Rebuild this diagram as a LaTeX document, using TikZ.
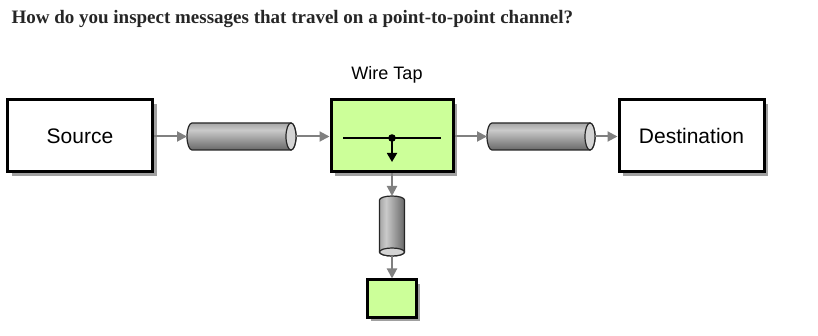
\documentclass[tikz,border=0pt]{standalone}
\usepackage{fontspec}
\setmainfont{Liberation Serif}
\newfontfamily\labelfont{Liberation Sans}
\usetikzlibrary{arrows.meta,shadows}

\definecolor{tapgreen}{RGB}{204,255,153}
\definecolor{pipedark}{RGB}{104,104,104}
\definecolor{pipelight}{RGB}{202,202,202}
\definecolor{pipetop}{RGB}{165,165,165}
\definecolor{pipeface}{RGB}{212,212,212}
\definecolor{flowgray}{RGB}{128,128,128}
\definecolor{shadowgray}{RGB}{160,160,160}

% gradient of a message channel: dark underside, highlight near the top
\pgfdeclareverticalshading{pipeshade}{100bp}{color(0bp)=(pipedark); color(25bp)=(pipedark); color(62bp)=(pipelight); color(75bp)=(pipetop); color(100bp)=(pipetop)}

% horizontal channel drawn inside the bounds of node #1, open end on the right
\newcommand\hchannel[1]{%
  \shadedraw[shading=pipeshade, draw=black!85, line width=1.2pt]
    ([xshift=5pt]#1.north west) -- ([xshift=-5pt]#1.north east)
    arc[start angle=90, end angle=-90, x radius=5pt, y radius=13.5pt]
    -- ([xshift=5pt]#1.south west)
    arc[start angle=-90, end angle=-270, x radius=5pt, y radius=13.5pt] -- cycle;
  \draw[draw=black!85, line width=1.2pt, fill=pipeface]
    ([xshift=-5pt]#1.east) ellipse[x radius=5pt, y radius=13.5pt];}

% vertical channel drawn inside the bounds of node #1, open end at the bottom
\newcommand\vchannel[1]{%
  \shadedraw[shading=pipeshade, shading angle=90, draw=black!85, line width=1.2pt]
    ([yshift=-4pt]#1.north west) -- ([yshift=4pt]#1.south west)
    arc[start angle=180, end angle=360, x radius=12.5pt, y radius=4pt]
    -- ([yshift=-4pt]#1.north east)
    arc[start angle=0, end angle=180, x radius=12.5pt, y radius=4pt] -- cycle;
  \draw[draw=black!85, line width=1.2pt, fill=pipeface]
    ([yshift=4pt]#1.south) ellipse[x radius=12.5pt, y radius=4pt];}

\begin{document}
\begin{tikzpicture}[x=1pt, y=-1pt,
  boxshadow/.style={drop shadow={shadow xshift=4pt, shadow yshift=-4pt, fill=shadowgray, opacity=1}},
  endpoint/.style={draw=black, line width=3pt, fill=white, inner sep=0pt,
    minimum width=145pt, minimum height=72pt, boxshadow,
    font=\labelfont\fontsize{21}{25}\selectfont},
  filterbox/.style={draw=black, line width=3pt, fill=tapgreen, inner sep=0pt, boxshadow},
  channel/.style={inner sep=0pt, outer sep=0pt},
  flow/.style={draw=flowgray, line width=2pt, -{Triangle[length=10pt, width=10pt]}},
  tapline/.style={draw=black, line width=1.8pt}]

\useasboundingbox (0,0) rectangle (818,336);

% heading
\node[anchor=base west, font=\bfseries\fontsize{19}{23}\selectfont, text=black!85] (title) at (8,24)
  {How do you inspect messages that travel on a point-to-point channel?};

% endpoints and the wire tap
\node[endpoint] (source) at (80,136) {Source};
\node[endpoint] (dest) at (691.5,136) {Destination};
\node[filterbox, minimum width=122pt, minimum height=72pt] (tap) at (392,136) {};
\node[anchor=base, font=\labelfont\fontsize{18}{22}\selectfont] (taplabel) at (387,80) {Wire Tap};
\node[filterbox, minimum width=49pt, minimum height=37pt] (copy) at (391.5,298.5) {};

% channels
\node[channel, minimum width=109pt, minimum height=27pt] (ch1) at (241.5,136.5) {};
\node[channel, minimum width=108pt, minimum height=27pt] (ch2) at (541,136.5) {};
\node[channel, minimum width=25pt, minimum height=60pt] (ch3) at (392,226) {};
\hchannel{ch1}
\hchannel{ch2}
\vchannel{ch3}

% wire tap symbol
\coordinate (tapL) at (343,138);
\coordinate (tapR) at (441,138);
\coordinate (tapJ) at (392,138);
\coordinate (tapD) at (392,162);
\draw[tapline] (tapL) -- (tapR);
\fill (tapJ) circle[radius=3.8pt];
\draw[tapline, -{Triangle[length=9pt, width=10pt]}] (tapJ) -- (tapD);

% message flow
\draw[flow] (source.east |- ch1.west) -- (ch1.west);
\draw[flow] (ch1.east) -- (tap.west |- ch1.east);
\draw[flow] (tap.east |- ch2.west) -- (ch2.west);
\draw[flow] (ch2.east) -- (dest.west |- ch2.east);
\draw[flow] (tap.south) -- (ch3.north);
\draw[flow] (ch3.south) -- (copy.north -| ch3.south);
\end{tikzpicture}
\end{document}
